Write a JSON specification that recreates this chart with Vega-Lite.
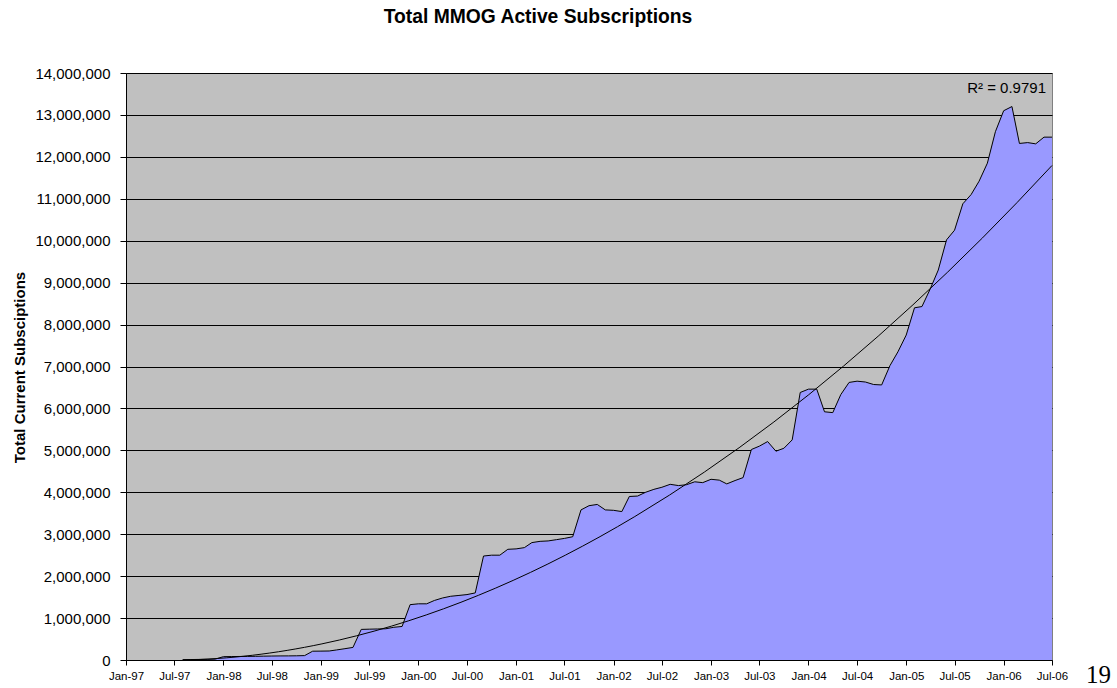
{
  "$schema": "https://vega.github.io/schema/vega-lite/v6.json",
  "width": 926,
  "height": 587,
  "autosize": "none",
  "padding": {"left": 126, "top": 73, "right": 65, "bottom": 28},
  "background": "white",
  "config": {
    "view": {"fill": "#C0C0C0", "stroke": "#808080", "strokeWidth": 1},
    "font": "Liberation Sans"
  },
  "title": {
    "text": "Total MMOG Active Subscriptions",
    "font": "Liberation Sans",
    "fontSize": 19.3,
    "fontWeight": "bold",
    "color": "black",
    "anchor": "middle",
    "frame": "group",
    "dx": -51,
    "offset": 39
  },
  "data": {
    "format": {"parse": {"date": "date:'%Y-%m-%d'"}},
    "values": [
      {"date": "1997-08-01", "n": 1, "value": 8000},
      {"date": "1997-09-01", "n": 2, "value": 11000},
      {"date": "1997-10-01", "n": 3, "value": 13500},
      {"date": "1997-11-01", "n": 4, "value": 16000},
      {"date": "1997-12-01", "n": 5, "value": 21500},
      {"date": "1998-01-01", "n": 6, "value": 80000},
      {"date": "1998-02-01", "n": 7, "value": 82000},
      {"date": "1998-03-01", "n": 8, "value": 84000},
      {"date": "1998-04-01", "n": 9, "value": 86000},
      {"date": "1998-05-01", "n": 10, "value": 88000},
      {"date": "1998-06-01", "n": 11, "value": 92000},
      {"date": "1998-07-01", "n": 12, "value": 95000},
      {"date": "1998-08-01", "n": 13, "value": 97000},
      {"date": "1998-09-01", "n": 14, "value": 98000},
      {"date": "1998-10-01", "n": 15, "value": 100000},
      {"date": "1998-11-01", "n": 16, "value": 105000},
      {"date": "1998-12-01", "n": 17, "value": 210000},
      {"date": "1999-01-01", "n": 18, "value": 212000},
      {"date": "1999-02-01", "n": 19, "value": 215000},
      {"date": "1999-03-01", "n": 20, "value": 240000},
      {"date": "1999-04-01", "n": 21, "value": 270000},
      {"date": "1999-05-01", "n": 22, "value": 300000},
      {"date": "1999-06-01", "n": 23, "value": 730000},
      {"date": "1999-07-01", "n": 24, "value": 735000},
      {"date": "1999-08-01", "n": 25, "value": 740000},
      {"date": "1999-09-01", "n": 26, "value": 745000},
      {"date": "1999-10-01", "n": 27, "value": 780000},
      {"date": "1999-11-01", "n": 28, "value": 800000},
      {"date": "1999-12-01", "n": 29, "value": 1320000},
      {"date": "2000-01-01", "n": 30, "value": 1340000},
      {"date": "2000-02-01", "n": 31, "value": 1340000},
      {"date": "2000-03-01", "n": 32, "value": 1420000},
      {"date": "2000-04-01", "n": 33, "value": 1480000},
      {"date": "2000-05-01", "n": 34, "value": 1520000},
      {"date": "2000-06-01", "n": 35, "value": 1540000},
      {"date": "2000-07-01", "n": 36, "value": 1560000},
      {"date": "2000-08-01", "n": 37, "value": 1600000},
      {"date": "2000-09-01", "n": 38, "value": 2480000},
      {"date": "2000-10-01", "n": 39, "value": 2500000},
      {"date": "2000-11-01", "n": 40, "value": 2500000},
      {"date": "2000-12-01", "n": 41, "value": 2640000},
      {"date": "2001-01-01", "n": 42, "value": 2650000},
      {"date": "2001-02-01", "n": 43, "value": 2680000},
      {"date": "2001-03-01", "n": 44, "value": 2800000},
      {"date": "2001-04-01", "n": 45, "value": 2830000},
      {"date": "2001-05-01", "n": 46, "value": 2840000},
      {"date": "2001-06-01", "n": 47, "value": 2870000},
      {"date": "2001-07-01", "n": 48, "value": 2900000},
      {"date": "2001-08-01", "n": 49, "value": 2940000},
      {"date": "2001-09-01", "n": 50, "value": 3580000},
      {"date": "2001-10-01", "n": 51, "value": 3680000},
      {"date": "2001-11-01", "n": 52, "value": 3710000},
      {"date": "2001-12-01", "n": 53, "value": 3580000},
      {"date": "2002-01-01", "n": 54, "value": 3570000},
      {"date": "2002-02-01", "n": 55, "value": 3540000},
      {"date": "2002-03-01", "n": 56, "value": 3900000},
      {"date": "2002-04-01", "n": 57, "value": 3910000},
      {"date": "2002-05-01", "n": 58, "value": 4000000},
      {"date": "2002-06-01", "n": 59, "value": 4070000},
      {"date": "2002-07-01", "n": 60, "value": 4120000},
      {"date": "2002-08-01", "n": 61, "value": 4190000},
      {"date": "2002-09-01", "n": 62, "value": 4160000},
      {"date": "2002-10-01", "n": 63, "value": 4180000},
      {"date": "2002-11-01", "n": 64, "value": 4250000},
      {"date": "2002-12-01", "n": 65, "value": 4230000},
      {"date": "2003-01-01", "n": 66, "value": 4310000},
      {"date": "2003-02-01", "n": 67, "value": 4290000},
      {"date": "2003-03-01", "n": 68, "value": 4200000},
      {"date": "2003-04-01", "n": 69, "value": 4280000},
      {"date": "2003-05-01", "n": 70, "value": 4350000},
      {"date": "2003-06-01", "n": 71, "value": 5020000},
      {"date": "2003-07-01", "n": 72, "value": 5100000},
      {"date": "2003-08-01", "n": 73, "value": 5210000},
      {"date": "2003-09-01", "n": 74, "value": 4980000},
      {"date": "2003-10-01", "n": 75, "value": 5050000},
      {"date": "2003-11-01", "n": 76, "value": 5250000},
      {"date": "2003-12-01", "n": 77, "value": 6380000},
      {"date": "2004-01-01", "n": 78, "value": 6460000},
      {"date": "2004-02-01", "n": 79, "value": 6460000},
      {"date": "2004-03-01", "n": 80, "value": 5920000},
      {"date": "2004-04-01", "n": 81, "value": 5900000},
      {"date": "2004-05-01", "n": 82, "value": 6330000},
      {"date": "2004-06-01", "n": 83, "value": 6620000},
      {"date": "2004-07-01", "n": 84, "value": 6650000},
      {"date": "2004-08-01", "n": 85, "value": 6630000},
      {"date": "2004-09-01", "n": 86, "value": 6570000},
      {"date": "2004-10-01", "n": 87, "value": 6560000},
      {"date": "2004-11-01", "n": 88, "value": 7020000},
      {"date": "2004-12-01", "n": 89, "value": 7350000},
      {"date": "2005-01-01", "n": 90, "value": 7750000},
      {"date": "2005-02-01", "n": 91, "value": 8400000},
      {"date": "2005-03-01", "n": 92, "value": 8430000},
      {"date": "2005-04-01", "n": 93, "value": 8850000},
      {"date": "2005-05-01", "n": 94, "value": 9300000},
      {"date": "2005-06-01", "n": 95, "value": 10020000},
      {"date": "2005-07-01", "n": 96, "value": 10250000},
      {"date": "2005-08-01", "n": 97, "value": 10880000},
      {"date": "2005-09-01", "n": 98, "value": 11100000},
      {"date": "2005-10-01", "n": 99, "value": 11420000},
      {"date": "2005-11-01", "n": 100, "value": 11850000},
      {"date": "2005-12-01", "n": 101, "value": 12600000},
      {"date": "2006-01-01", "n": 102, "value": 13100000},
      {"date": "2006-02-01", "n": 103, "value": 13200000},
      {"date": "2006-03-01", "n": 104, "value": 12320000},
      {"date": "2006-04-01", "n": 105, "value": 12340000},
      {"date": "2006-05-01", "n": 106, "value": 12310000},
      {"date": "2006-06-01", "n": 107, "value": 12470000},
      {"date": "2006-07-01", "n": 108, "value": 12470000}
    ]
  },
  "layer": [
    {
      "mark": {"type": "area", "color": "#9999FF", "opacity": 1, "fillOpacity": 1, "line": {"color": "black", "strokeWidth": 1}},
      "encoding": {
        "x": {
          "field": "date",
          "type": "temporal",
          "scale": {
            "domain": [{"year": 1997, "month": 1, "date": 1}, {"year": 2006, "month": 7, "date": 1}],
            "nice": false
          },
          "axis": {
            "format": "%b-%y",
            "tickCount": {"interval": "month", "step": 6},
            "labelFontSize": 11.5,
            "labelColor": "black",
            "labelFlush": false,
            "labelOverlap": false,
            "labelPadding": 5,
            "tickColor": "black",
            "tickSize": 5,
            "domainColor": "black",
            "grid": false,
            "title": "19",
            "titleFont": "Liberation Serif",
            "titleFontSize": 25,
            "titleFontWeight": "normal",
            "titleColor": "black",
            "titleX": 972,
            "titleY": 22,
            "titleAlign": "center",
            "titleBaseline": "alphabetic"
          }
        },
        "y": {
          "field": "value",
          "type": "quantitative",
          "scale": {"domain": [0, 14000000], "nice": false},
          "axis": {
            "format": ",d",
            "values": [0, 1000000, 2000000, 3000000, 4000000, 5000000, 6000000, 7000000, 8000000, 9000000, 10000000, 11000000, 12000000, 13000000, 14000000],
            "labelFontSize": 15,
            "labelColor": "black",
            "labelPadding": 10,
            "tickColor": "black",
            "tickSize": 6,
            "domainColor": "black",
            "grid": true,
            "gridColor": "black",
            "gridOpacity": 1,
            "gridWidth": 1,
            "title": "Total Current Subsciptions",
            "titleFontSize": 15,
            "titleFontWeight": "bold",
            "titleColor": "black",
            "titleX": -107,
            "titleY": 294,
            "titleAngle": -90,
            "titleAlign": "center",
            "titleBaseline": "middle"
          }
        }
      }
    },
    {
      "transform": [{"regression": "value", "on": "n", "method": "pow"}],
      "mark": {"type": "line", "color": "black", "strokeWidth": 1},
      "encoding": {
        "x": {"field": "n", "type": "quantitative", "scale": {"domain": [-6, 108], "nice": false, "zero": false}, "axis": null},
        "y": {"field": "value", "type": "quantitative"}
      }
    },
    {
      "data": {
        "format": {"parse": {"date": "date:'%Y-%m-%d'"}},
        "values": [{"date": "2006-07-01", "value": 13650000, "label": "R² = 0.9791"}]
      },
      "mark": {"type": "text", "align": "right", "baseline": "middle", "dx": -6, "fontSize": 15, "color": "black"},
      "encoding": {
        "x": {"field": "date", "type": "temporal", "scale": {"domain": [{"year": 1997, "month": 1, "date": 1}, {"year": 2006, "month": 7, "date": 1}], "nice": false}, "axis": null},
        "y": {"field": "value", "type": "quantitative"},
        "text": {"field": "label"}
      }
    }
  ],
  "resolve": {"scale": {"x": "independent"}}
}
